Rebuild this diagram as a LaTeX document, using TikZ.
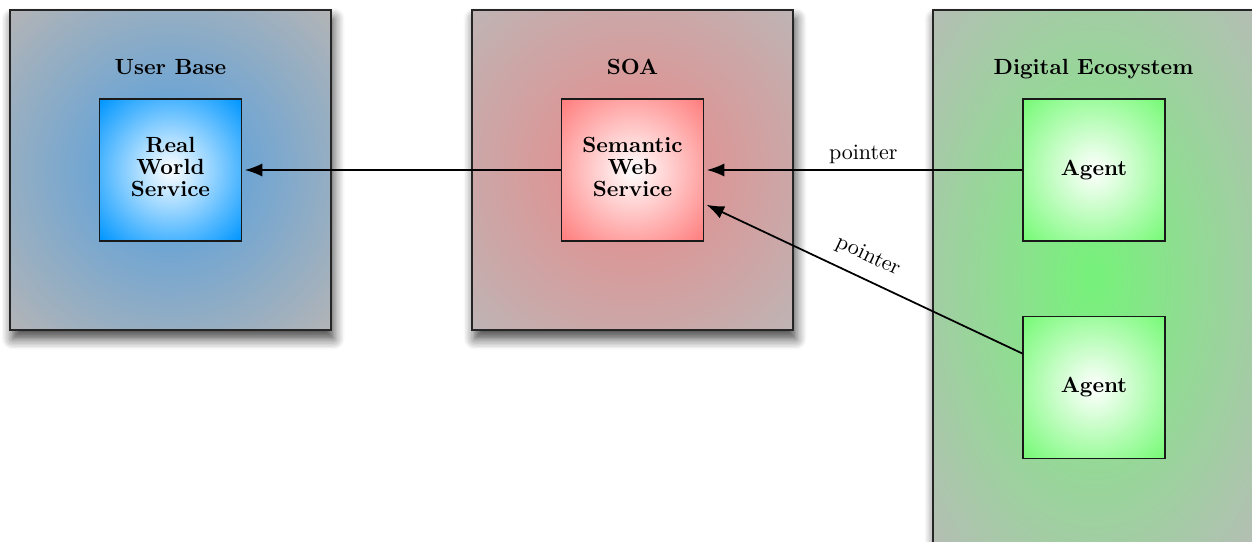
\documentclass[tikz,border=0pt]{standalone}
\usepackage{tikz}
\usetikzlibrary{shadows.blur,arrows.meta,positioning,calc}

\definecolor{ubcore}{RGB}{78,158,225}
\definecolor{ubrim}{RGB}{178,180,182}
\definecolor{rwsrim}{RGB}{0,150,255}
\definecolor{soacore}{RGB}{234,136,136}
\definecolor{soarim}{RGB}{190,180,180}
\definecolor{swsrim}{RGB}{255,125,125}
\definecolor{decore}{RGB}{118,242,122}
\definecolor{derim}{RGB}{180,190,180}
\definecolor{agentrim}{RGB}{118,250,118}

\colorlet{shin}{white}
\colorlet{shout}{gray}
% radial shading that reaches the outer colour at the corners
\pgfdeclareradialshading[shin,shout]{cornerradial}{\pgfpoint{0bp}{0bp}}{color(0bp)=(shin); color(35bp)=(shout); color(50bp)=(shout)}

\begin{document}
\begin{tikzpicture}[
        x=0.016cm, y=-0.016cm,
        radial fill/.style 2 args={/utils/exec={\colorlet{shin}{#1}\colorlet{shout}{#2}}, shading=cornerradial},
        zone/.style={draw=black!85, thick, minimum width=5.136cm, minimum height=5.12cm,
            blur shadow={shadow xshift=1.2pt, shadow yshift=-4pt, shadow blur radius=5pt, shadow blur steps=8, shadow opacity=75}},
        service/.style={draw=black!90, semithick, minimum size=2.272cm, align=center,
            font=\bfseries\fontsize{10}{10}\selectfont},
        title/.style={font=\bfseries, anchor=base},
        ref arrow/.style={thick, -{Latex[length=8pt,width=6pt]}, shorten >=1.2pt}
    ]
        \useasboundingbox (0,0) rectangle (1252,542);

        % outer zones
        \node[zone, radial fill={ubcore}{ubrim}] (userbase) at (170.5,170) {};
        \node[zone, radial fill={soacore}{soarim}] (soa) at (632.5,170) {};
        \node[zone, minimum height=8.576cm, radial fill={decore}{derim}] (eco) at (1093.5,278) {};

        \node[title] (ubtitle) at ([yshift=-1.04cm]userbase.north) {User Base};
        \node[title] (soatitle) at ([yshift=-1.04cm]soa.north) {SOA};
        \node[title] (ecotitle) at ([yshift=-1.04cm]eco.north) {Digital Ecosystem};

        % services and agents
        \node[service, text depth=2.8pt, radial fill={white}{rwsrim}] (rws) at (userbase.center) {Real\\World\\Service};
        \node[service, text depth=2.8pt, radial fill={white}{swsrim}] (sws) at (soa.center) {Semantic\\Web\\Service};
        \node[service, radial fill={white}{agentrim}] (agent1) at (1094,170) {Agent};
        \node[service, radial fill={white}{agentrim}, below=1.184cm of agent1] (agent2) {Agent};

        \draw[ref arrow] (sws) -- (rws);
        \draw[ref arrow] (agent1) -- node[above, yshift=-0.8pt] {pointer} (sws);
        \draw[ref arrow] (agent2) -- node[above, sloped, pos=0.515, yshift=2pt] {pointer} (sws);
    \end{tikzpicture}
\end{document}
